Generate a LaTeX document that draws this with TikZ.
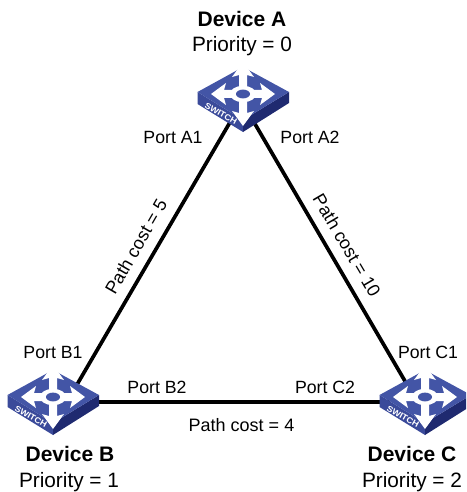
\documentclass[tikz,border=0pt]{standalone}
\usepackage{fontspec}
\setmainfont{Liberation Sans}
\definecolor{swtop}{HTML}{4355A6}
\definecolor{swleft}{HTML}{3A4A9A}
\definecolor{swright}{HTML}{1F2A70}
\tikzset{
  lnk/.style={line width=3.7pt,black},
  plabel/.style={font=\fontsize{17.7}{20}\selectfont,inner sep=0pt,anchor=base},
  dname/.style={font=\fontsize{21}{24}\selectfont\bfseries,inner sep=0pt,anchor=base},
  prio/.style={font=\fontsize{20.8}{24}\selectfont,inner sep=0pt,anchor=base},
  cost/.style={font=\fontsize{18}{20}\selectfont,inner sep=0pt},
  swarrow/.pic={
    \fill[white] (0,-4) -- (19,-4) -- (17,-11) -- (32,0) -- (17,11) -- (19,4) -- (0,4) -- cycle;
  },
  switchpic/.pic={
    \fill[swleft] (-45.5,25) -- (0,53) -- (0,65) -- (-45.5,37) -- cycle;
    \fill[swright] (46,25) -- (0,53) -- (0,65) -- (46,36) -- cycle;
    \fill[swtop] (0,0) -- (46,25) -- (0,53) -- (-45.5,25) -- cycle;
    \begin{scope}[shift={(0,27)},yscale=0.63]
      \pic[rotate=0] at (0,0) {swarrow};
      \pic[rotate=90] at (0,0) {swarrow};
      \pic[rotate=180] at (0,0) {swarrow};
      \pic[rotate=270] at (0,0) {swarrow};
      \fill[white] (0,0) circle (13);
      \fill[swtop] (0,0) circle (7);
    \end{scope}
    \node[text=white,font=\fontsize{9}{10}\selectfont\bfseries,inner sep=0pt,cm={.87,-.5,.45,.8,(0,0)}] at (-22,46.5) {SWITCH};
  }
}
\begin{document}
\begin{tikzpicture}[x=1pt,y=-1pt]
\useasboundingbox[clip] (0,0) rectangle (466,492);
\coordinate (aL) at (243,100);
\coordinate (aR) at (241,100);
\coordinate (bT) at (68,400);
\coordinate (bR) at (90,402);
\coordinate (cT) at (416,400);
\coordinate (cL) at (390,402);
\draw[lnk] (aL) -- (bT);
\draw[lnk] (aR) -- (cT);
\draw[lnk] (bR) -- (cL);
\pic at (243,67) {switchpic};
\pic at (53,370) {switchpic};
\pic at (425,370) {switchpic};
\node[dname] (devA) at (242,27) {Device A};
\node[prio] (prA) at (242,52) {Priority = 0};
\node[dname] (devB) at (70,461) {Device B};
\node[prio] (prB) at (69,487) {Priority = 1};
\node[dname] (devC) at (412,461) {Device C};
\node[prio] (prC) at (412,487) {Priority = 2};
\node[plabel] (pA1) at (173,143) {Port A1};
\node[plabel] (pA2) at (310,143) {Port A2};
\node[plabel] (pB1) at (53,358.5) {Port B1};
\node[plabel] (pB2) at (157,393) {Port B2};
\node[plabel] (pC1) at (428,358.5) {Port C1};
\node[plabel] (pC2) at (325,393) {Port C2};
\node[cost,rotate=60] (c1) at (136,246.5) {Path cost = 5};
\node[cost,rotate=-59.5] (c2) at (347,245.5) {Path cost = 10};
\node[cost,anchor=base] (c3) at (241.5,431) {Path cost = 4};
\end{tikzpicture}
\end{document}
